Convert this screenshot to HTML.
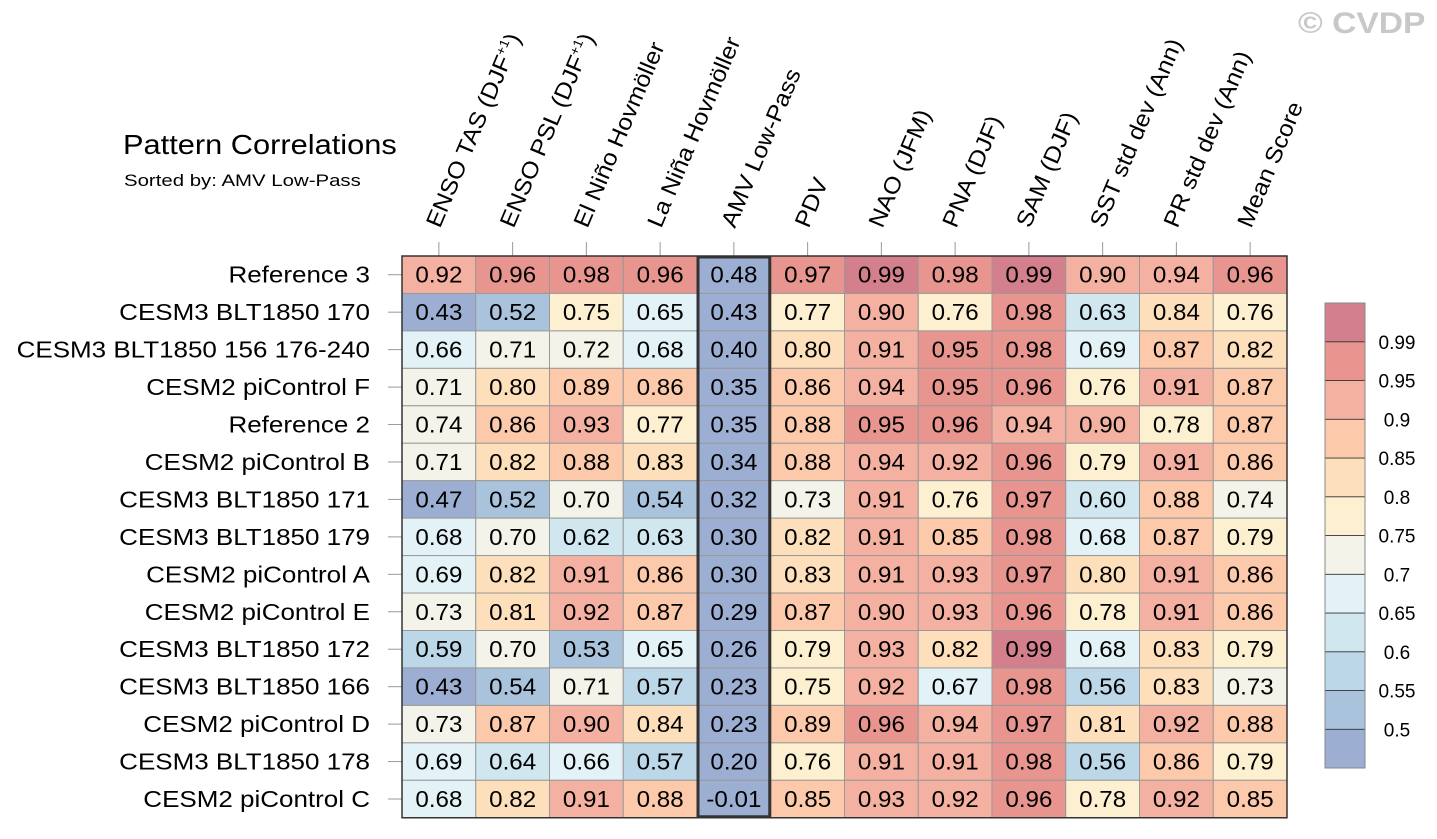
<!DOCTYPE html>
<html><head><meta charset="utf-8"><style>body{margin:0;background:#fff}svg{display:block;font-family:"Liberation Sans",sans-serif}</style></head>
<body>
<svg id="chart" width="1437" height="839">
<text x="1298" y="33" font-size="30" font-weight="bold" fill="#c8c8c8" transform="translate(1298,0) scale(1.12,1) translate(-1298,0)">© CVDP</text>
<text x="123" y="154" font-size="28" transform="translate(123,0) scale(1.1,1) translate(-123,0)">Pattern Correlations</text>
<text x="124" y="186" font-size="17" transform="translate(124,0) scale(1.2,1) translate(-124,0)">Sorted by: AMV Low-Pass</text>
<g id="grid"></g>
<g id="cbar"></g>
</svg>
<script>
const columns=["ENSO TAS (DJF+1)","ENSO PSL (DJF+1)","El Niño Hovmöller","La Niña Hovmöller","AMV Low-Pass","PDV","NAO (JFM)","PNA (DJF)","SAM (DJF)","SST std dev (Ann)","PR std dev (Ann)","Mean Score"];
const rows=["Reference 3","CESM3 BLT1850 170","CESM3 BLT1850 156 176-240","CESM2 piControl F","Reference 2","CESM2 piControl B","CESM3 BLT1850 171","CESM3 BLT1850 179","CESM2 piControl A","CESM2 piControl E","CESM3 BLT1850 172","CESM3 BLT1850 166","CESM2 piControl D","CESM3 BLT1850 178","CESM2 piControl C"];
const values=[
[0.92,0.96,0.98,0.96,0.48,0.97,0.99,0.98,0.99,0.90,0.94,0.96],
[0.43,0.52,0.75,0.65,0.43,0.77,0.90,0.76,0.98,0.63,0.84,0.76],
[0.66,0.71,0.72,0.68,0.40,0.80,0.91,0.95,0.98,0.69,0.87,0.82],
[0.71,0.80,0.89,0.86,0.35,0.86,0.94,0.95,0.96,0.76,0.91,0.87],
[0.74,0.86,0.93,0.77,0.35,0.88,0.95,0.96,0.94,0.90,0.78,0.87],
[0.71,0.82,0.88,0.83,0.34,0.88,0.94,0.92,0.96,0.79,0.91,0.86],
[0.47,0.52,0.70,0.54,0.32,0.73,0.91,0.76,0.97,0.60,0.88,0.74],
[0.68,0.70,0.62,0.63,0.30,0.82,0.91,0.85,0.98,0.68,0.87,0.79],
[0.69,0.82,0.91,0.86,0.30,0.83,0.91,0.93,0.97,0.80,0.91,0.86],
[0.73,0.81,0.92,0.87,0.29,0.87,0.90,0.93,0.96,0.78,0.91,0.86],
[0.59,0.70,0.53,0.65,0.26,0.79,0.93,0.82,0.99,0.68,0.83,0.79],
[0.43,0.54,0.71,0.57,0.23,0.75,0.92,0.67,0.98,0.56,0.83,0.73],
[0.73,0.87,0.90,0.84,0.23,0.89,0.96,0.94,0.97,0.81,0.92,0.88],
[0.69,0.64,0.66,0.57,0.20,0.76,0.91,0.91,0.98,0.56,0.86,0.79],
[0.68,0.82,0.91,0.88,-0.01,0.85,0.93,0.92,0.96,0.78,0.92,0.85]];
const levels=[0.5,0.55,0.6,0.65,0.7,0.75,0.8,0.85,0.9,0.95,0.99];
const levelLabels=["0.5","0.55","0.6","0.65","0.7","0.75","0.8","0.85","0.9","0.95","0.99"];
const palette=["#9daed3","#a9c3dc","#bcd7e8","#d1e7f0","#e3f2f6","#f3f3e9","#fdf0d0","#fde0bb","#fcc9aa","#f4b0a0","#e89590","#d47f8c"];
const highlightCol=4;
const NS="http://www.w3.org/2000/svg";
const X0=402,Y0=256,CW=73.75,RH=37.45;
function xs(c){return X0+c*CW;}
function ys(r){return Y0+r*RH;}
function colorOf(v){let i=0;while(i<levels.length&&v>=levels[i]-1e-9)i++;return palette[i];}
function mk(tag,attrs,parent){const e=document.createElementNS(NS,tag);for(const k in attrs)e.setAttribute(k,attrs[k]);parent.appendChild(e);return e;}
const g=document.getElementById('grid');
columns.forEach((c,ci)=>{
  const cx=xs(ci)+CW/2;
  const t=mk('line',{x1:cx,y1:Y0-14,x2:cx,y2:Y0,stroke:'#999','stroke-width':1},g);
  
  
  const tx=mk('text',{x:0,y:0,'font-size':23,transform:`translate(${cx+1},${Y0-27}) rotate(-67) scale(1.08,1)`},g);
  
  
  const m=c.match(/^(.*\(DJF)\+1\)$/);
  if(m){tx.textContent=m[1];const s=mk('tspan',{'font-size':13,dy:-9},tx);s.textContent='+1';const e=mk('tspan',{dy:9},tx);e.textContent=')';}
  else tx.textContent=c;
});
rows.forEach((r,ri)=>{
  const cy=ys(ri)+RH/2;
  const t=mk('line',{x1:X0-14,y1:cy,x2:X0,y2:cy,stroke:'#999','stroke-width':1},g);
  
  
  const tx=mk('text',{x:0,y:0,'font-size':23,'text-anchor':'end',transform:`translate(370,${cy+8}) scale(1.13,1)`},g);
  tx.textContent=r;
  
  
  values[ri].forEach((v,ci)=>{
    const rc=mk('rect',{x:xs(ci),y:ys(ri),width:CW,height:RH,fill:colorOf(v),stroke:'#999','stroke-width':1},g);
    
    
    const vt=mk('text',{x:0,y:0,'font-size':23,'text-anchor':'middle',transform:`translate(${xs(ci)+CW/2},${ys(ri)+RH/2+8}) scale(1.05,1)`},g);
    vt.textContent=v.toFixed(2);
    
    
  });
});
const fr=mk('rect',{x:X0,y:Y0,width:CW*columns.length,height:RH*rows.length,fill:'none',stroke:'#333','stroke-width':1.5},g);


const hl=mk('rect',{x:xs(highlightCol)+1,y:Y0+1,width:CW-2,height:RH*rows.length-2,fill:'none',stroke:'#333','stroke-width':3},g);


const cb=document.getElementById('cbar');
const CBX=1325,CBT=303,CBW=40,BH=38.75;
palette.forEach((col,i)=>{
  const y=CBT+(palette.length-1-i)*BH;
  const r=mk('rect',{x:CBX,y:y,width:CBW,height:BH,fill:col,stroke:'#333','stroke-width':0.8},cb);
  
  
});
levelLabels.forEach((l,i)=>{
  const y=CBT+(palette.length-1-i)*BH;
  const t=mk('text',{x:1397,y:y+7,'font-size':19,'text-anchor':'middle'},cb);
  t.textContent=l;
  
  
});
const cf=mk('rect',{x:CBX,y:CBT,width:CBW,height:BH*palette.length,fill:'none',stroke:'#888','stroke-width':1},cb);


</script>
</body></html>
